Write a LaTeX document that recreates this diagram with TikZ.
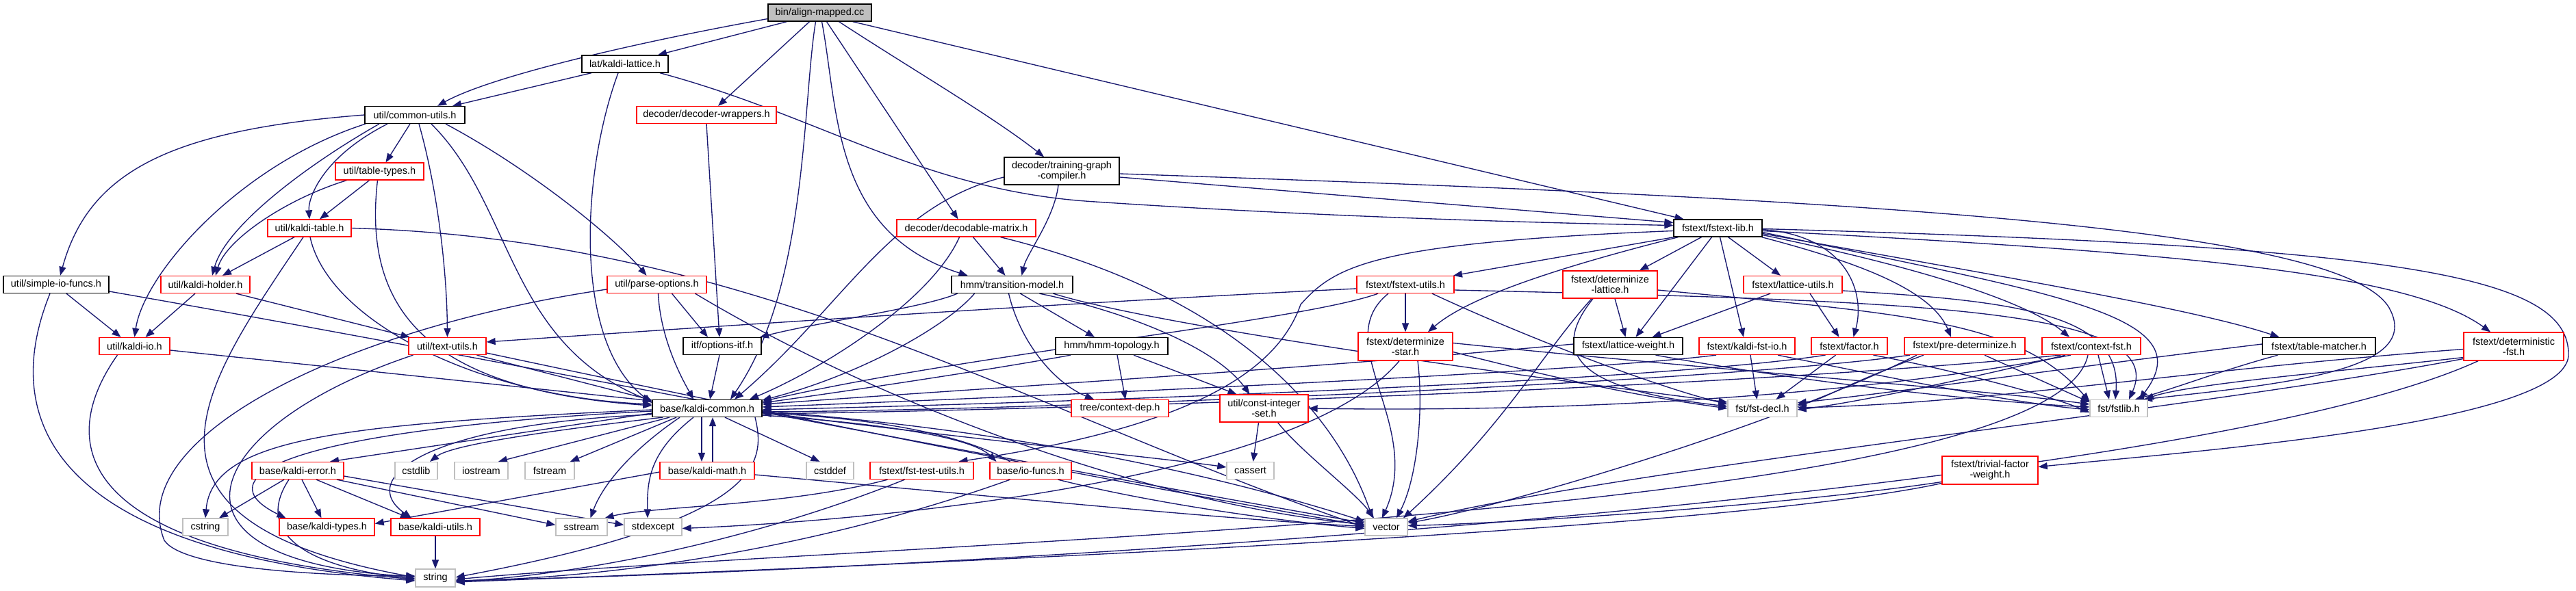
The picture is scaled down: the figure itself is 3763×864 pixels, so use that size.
\documentclass[tikz,border=0pt]{standalone}
\usepackage{fontspec}
\setmainfont{Liberation Sans}
\usetikzlibrary{arrows.meta}
\definecolor{edgec}{HTML}{191970}
\definecolor{grayb}{HTML}{BFBFBF}
\pgfdeclarelayer{bg}
\pgfsetlayers{bg,main}
\begin{document}
\begin{tikzpicture}[x=1pt,y=-1pt,
  box/.style={rectangle,inner sep=0pt,fill=white,line width=1.3pt,align=center,
    font=\fontsize{14.5}{15}\selectfont,minimum height=25pt},
  nb/.style={box,draw=black},
  nr/.style={box,draw=red},
  ng/.style={box,draw=grayb},
  nroot/.style={box,draw=black,fill=grayb},
  edg/.style={draw=edgec,line width=1.35pt,-{Triangle[length=13pt,width=10pt]}}]
\path[use as bounding box] (0,0) rectangle (3763,864);
% nodes
\node[nroot,minimum width=151pt] (A) at (1197.5,18.5) {bin/align-mapped.cc};
\node[nb,minimum width=126pt] (LAT) at (913,93.5) {lat/kaldi-lattice.h};
\node[nb,minimum width=146pt] (CU) at (606,168) {util/common-utils.h};
\node[nr,minimum width=204pt] (DW) at (1032,168) {decoder/decoder-wrappers.h};
\node[nb,minimum width=168pt,minimum height=40pt] (TGC) at (1551,250) {decoder/training-graph\\-compiler.h};
\node[nr,minimum width=129pt] (TT) at (554.5,250.5) {util/table-types.h};
\node[nr,minimum width=203pt] (DM) at (1411.5,333.5) {decoder/decodable-matrix.h};
\node[nr,minimum width=122pt] (KT) at (452,333.5) {util/kaldi-table.h};
\node[nb,minimum width=129pt] (FL) at (2509.5,333.5) {fstext/fstext-lib.h};
\node[nb,minimum width=154pt] (SIO) at (82,416) {util/simple-io-funcs.h};
\node[nr,minimum width=130pt] (KH) at (300,416) {util/kaldi-holder.h};
\node[nr,minimum width=145pt] (PO) at (959.5,416) {util/parse-options.h};
\node[nb,minimum width=177pt] (TM) at (1478.5,416) {hmm/transition-model.h};
\node[nr,minimum width=142pt] (FU) at (2053,416) {fstext/fstext-utils.h};
\node[nr,minimum width=138pt,minimum height=40pt] (DL) at (2352,416) {fstext/determinize\\-lattice.h};
\node[nr,minimum width=144pt] (LU) at (2619,416) {fstext/lattice-utils.h};
\node[nr,minimum width=103pt] (KIO) at (196.5,506) {util/kaldi-io.h};
\node[nr,minimum width=113pt] (TU) at (653.5,506) {util/text-utils.h};
\node[nb,minimum width=114pt] (OI) at (1055,506) {itf/options-itf.h};
\node[nb,minimum width=164pt] (HT) at (1624,506) {hmm/hmm-topology.h};
\node[nr,minimum width=138pt,minimum height=41pt] (DS) at (2053,506.5) {fstext/determinize\\-star.h};
\node[nb,minimum width=159pt] (LW) at (2378.5,506) {fstext/lattice-weight.h};
\node[nr,minimum width=140pt] (KFI) at (2552,506) {fstext/kaldi-fst-io.h};
\node[nr,minimum width=111pt] (FAC) at (2701.5,506) {fstext/factor.h};
\node[nr,minimum width=176pt] (PD) at (2870,506) {fstext/pre-determinize.h};
\node[nr,minimum width=144pt] (CF) at (3055,506) {fstext/context-fst.h};
\node[nb,minimum width=165pt] (TMA) at (3387.5,506) {fstext/table-matcher.h};
\node[nr,minimum width=146pt,minimum height=41pt] (DF) at (3672,506.5) {fstext/deterministic\\-fst.h};
\node[nb,minimum width=160pt] (KC) at (1033,597) {base/kaldi-common.h};
\node[nr,minimum width=142pt] (CD) at (1636,597) {tree/context-dep.h};
\node[nr,minimum width=129pt,minimum height=40pt] (CIS) at (1846.5,597) {util/const-integer\\-set.h};
\node[ng,minimum width=101pt] (FD) at (2574.5,597) {fst/fst-decl.h};
\node[ng,minimum width=84pt] (FLIB) at (3095,597) {fst/fstlib.h};
\node[nr,minimum width=134pt] (KE) at (435,688) {base/kaldi-error.h};
\node[ng,minimum width=62pt] (CSL) at (608,688) {cstdlib};
\node[ng,minimum width=78pt] (IOS) at (703,688) {iostream};
\node[ng,minimum width=72pt] (FS) at (803,688) {fstream};
\node[nr,minimum width=138pt] (KM) at (1033,688) {base/kaldi-math.h};
\node[ng,minimum width=69pt] (CDF) at (1212.5,688) {cstddef};
\node[nr,minimum width=151pt] (FTU) at (1346.5,688) {fstext/fst-test-utils.h};
\node[nr,minimum width=119pt] (IOF) at (1505.5,688) {base/io-funcs.h};
\node[ng,minimum width=69pt] (CAS) at (1826.5,688) {cassert};
\node[nr,minimum width=140pt,minimum height=41pt] (TFW) at (2907,687.5) {fstext/trivial-factor\\-weight.h};
\node[ng,minimum width=66pt] (CSTR) at (300,770.5) {cstring};
\node[nr,minimum width=139pt] (KTY) at (477.5,770.5) {base/kaldi-types.h};
\node[nr,minimum width=130pt] (KU) at (636,770.5) {base/kaldi-utils.h};
\node[ng,minimum width=75pt] (SS) at (849.5,770.5) {sstream};
\node[ng,minimum width=84pt] (SE) at (954,770.5) {stdexcept};
\node[ng,minimum width=62pt] (VEC) at (2025,770.5) {vector};
\node[ng,minimum width=58pt,minimum height=26pt] (STR) at (636,845) {string};
\begin{pgfonlayer}{bg}
\fill[white] (0,0) rectangle (3763,864);
% edges: align-mapped
\draw[edg] ([yshift=-9pt]A.west) .. controls (940,60) and (720,110) .. ([xshift=33pt]CU.north);
\draw[edg] ([xshift=-48pt]A.south) -- ([xshift=48pt]LAT.north);
\draw[edg] ([xshift=-15pt]A.south) -- ([xshift=17pt]DW.north);
\draw[edg] ([xshift=-6pt]A.south) .. controls (1172,150) and (1180,420) .. ([xshift=34pt]KC.north);
\draw[edg] ([xshift=3pt]A.south) .. controls (1225,160) and (1215,340) .. ([xshift=-65pt]TM.north);
\draw[edg] ([xshift=10pt]A.south) -- ([xshift=-12pt]DM.north);
\draw[edg] ([xshift=28pt]A.south) .. controls (1330,100) and (1450,170) .. ([xshift=-26pt]TGC.north);
\draw[edg] ([xshift=48pt]A.south) -- ([xshift=-50pt]FL.north);
% lattice
\draw[edg] ([xshift=-49pt]LAT.south) -- ([xshift=55pt]CU.north);
\draw[edg] ([xshift=-10pt]LAT.south) .. controls (850,250) and (835,500) .. ([yshift=8pt]KC.west);
\draw[edg] ([xshift=51pt]LAT.south) .. controls (1200,170) and (1350,280) .. (1600,295) .. controls (1900,315) and (2200,325) .. ([yshift=4pt]FL.west);
\draw[edg] (DW.south) -- ([xshift=-4pt]OI.north);
% training graph compiler
\draw[edg] ([yshift=-9pt]TGC.west) .. controls (1300,300) and (1230,450) .. ([xshift=40pt]KC.north);
\draw[edg] ([xshift=-5pt]TGC.south) .. controls (1540,320) and (1500,370) .. ([xshift=14pt]TM.north);
\draw[edg] ([yshift=-9pt]TGC.east) -- ([yshift=8pt]FL.west);
\draw[edg] ([yshift=-4pt]TGC.east) .. controls (2700,290) and (3420,330) .. (3490,450) .. controls (3540,540) and (3350,560) .. ([xshift=36pt]FLIB.north);
% fstext-lib
\draw[edg] ([yshift=-4pt]FL.west) .. controls (2000,355) and (1950,390) .. (1900,445) .. controls (1860,560) and (1700,630) .. ([xshift=54pt]FTU.north);
\draw[edg] ([xshift=-64pt]FL.south) -- ([xshift=70pt]FU.north);
\draw[edg] ([xshift=-58pt]FL.south) .. controls (2300,385) and (2150,430) .. ([xshift=33pt]DS.north);
\draw[edg] ([xshift=-24pt]FL.south) -- ([xshift=43pt]DL.north);
\draw[edg] ([xshift=-9pt]FL.south) -- ([xshift=11pt]LW.north);
\draw[edg] ([xshift=3pt]FL.south) -- ([xshift=-5pt]KFI.north);
\draw[edg] ([xshift=15pt]FL.south) -- ([xshift=-18pt]LU.north);
\draw[edg] ([yshift=-2pt]FL.east) .. controls (2700,345) and (2725,430) .. ([xshift=6pt]FAC.north);
\draw[edg] ([xshift=64pt]FL.south) .. controls (2700,380) and (2820,420) .. ([xshift=-20pt]PD.north);
\draw[edg] ([yshift=-10pt]FL.east) .. controls (2800,390) and (2960,440) .. ([xshift=-32pt]CF.north);
\draw[edg] ([yshift=-8pt]FL.east) .. controls (2900,400) and (3200,450) .. ([xshift=-58pt]TMA.north);
\draw[edg] ([yshift=-4pt]FL.east) .. controls (3200,370) and (3520,400) .. ([xshift=-34pt]DF.north);
\draw[edg] ([yshift=-1pt]FL.east) .. controls (3500,360) and (3755,400) .. (3752,520) .. controls (3745,620) and (3200,660) .. ([yshift=5pt]TFW.east);
\draw[edg] ([yshift=-6pt]FL.east) .. controls (3000,430) and (3220,460) .. ([xshift=30pt]FLIB.north);
% fstext-utils
\draw[edg] ([yshift=-6pt]FU.west) .. controls (1600,440) and (1000,480) .. ([yshift=6pt]TU.east);
\draw[edg] ([xshift=-40pt]FU.south) .. controls (1900,470) and (1400,520) .. ([yshift=10pt]KC.east);
\draw[edg] (FU.south) -- (DS.north);
\draw[edg] ([xshift=39pt]FU.south) .. controls (2200,480) and (2400,560) .. ([yshift=6pt]FD.west);
\draw[edg] ([yshift=-8pt]FU.east) .. controls (2800,440) and (3170,450) .. ([xshift=15pt]FLIB.north);
\draw[edg] ([xshift=-25pt]FU.south) .. controls (1940,500) and (2080,620) .. ([xshift=-6pt]VEC.north);
% determinize-lattice
\draw[edg] ([xshift=7pt]DL.south) -- ([xshift=-4pt]LW.north);
\draw[edg] ([xshift=-27pt]DL.south) .. controls (2250,520) and (2200,620) .. ([xshift=25pt]VEC.north);
\draw[edg] ([xshift=-25pt]DL.south) .. controls (2260,520) and (2310,570) .. ([yshift=3pt]FD.west);
\draw[edg] ([yshift=-8pt]DL.east) .. controls (2800,460) and (2950,470) .. ([yshift=10pt]FLIB.west);
% determinize-star
\draw[edg] ([yshift=-8pt]DS.east) .. controls (2300,560) and (2400,580) .. ([yshift=0pt]FD.west);
\draw[edg] ([yshift=5pt]DS.east) .. controls (2500,540) and (2900,570) .. ([yshift=6pt]FLIB.west);
\draw[edg] ([xshift=18pt]DS.south) .. controls (2080,600) and (2070,700) .. ([xshift=15pt]VEC.north);
\draw[edg] ([xshift=-9pt]DS.south) .. controls (1900,700) and (1300,760) .. ([yshift=-2pt]SE.east);
% lattice-weight, kaldi-fst-io, factor
\draw[edg] ([yshift=3pt]LW.west) .. controls (1900,540) and (1400,570) .. ([yshift=6pt]KC.east);
\draw[edg] ([xshift=40pt]LW.south) .. controls (2700,570) and (2950,590) .. ([yshift=2pt]FLIB.west);
\draw[edg] ([xshift=-45pt]KFI.south) .. controls (2300,545) and (1500,580) .. ([yshift=2pt]KC.east);
\draw[edg] ([xshift=5pt]KFI.south) -- ([xshift=-8pt]FD.north);
\draw[edg] ([xshift=45pt]KFI.south) .. controls (2800,560) and (2950,590) .. ([yshift=-2pt]FLIB.west);
\draw[edg] ([xshift=-35pt]FAC.south) .. controls (2400,560) and (1500,590) .. ([yshift=-2pt]KC.east);
\draw[edg] ([xshift=-20pt]FAC.south) -- ([xshift=20pt]FD.north);
\draw[edg] ([xshift=35pt]FAC.south) .. controls (2850,540) and (3000,580) .. ([yshift=-6pt]FLIB.west);
% lattice-utils
\draw[edg] ([xshift=-33pt]LU.south) -- ([xshift=35pt]LW.north);
\draw[edg] ([xshift=25pt]LU.south) -- ([xshift=-15pt]FAC.north);
\draw[edg] ([yshift=-9pt]LU.east) .. controls (2950,440) and (3100,460) .. ([xshift=-5pt]FLIB.north);
% pre-determinize, context-fst, table-matcher, deterministic-fst, trivial
\draw[edg] ([xshift=-80pt]PD.south) .. controls (2500,560) and (1500,600) .. ([yshift=-5pt]KC.east);
\draw[edg] ([xshift=-60pt]PD.south) .. controls (2700,560) and (2660,585) .. ([yshift=5pt]FD.east);
\draw[edg] ([xshift=29pt]PD.south) -- ([yshift=9pt]FLIB.west);
\draw[edg] ([xshift=-70pt]PD.south) .. controls (2600,620) and (2200,740) .. ([yshift=6pt]VEC.east);
\draw[edg] ([xshift=-45pt]CF.south) .. controls (2500,570) and (1500,600) .. ([yshift=-8pt]KC.east);
\draw[edg] ([xshift=-38pt]CF.south) .. controls (2850,560) and (2700,590) .. ([yshift=-2pt]FD.east);
\draw[edg] ([xshift=-30pt]CF.south) .. controls (2600,600) and (2100,600) .. (CIS.east);
\draw[edg] ([xshift=-5pt]CF.south) .. controls (3000,760) and (1300,790) .. ([yshift=-2pt]STR.east);
\draw[edg] ([xshift=10pt]CF.south) -- ([xshift=-14pt]FLIB.north);
\draw[edg] ([yshift=3pt]TMA.west) .. controls (3000,540) and (2800,570) .. ([yshift=8pt]FD.east);
\draw[edg] ([xshift=-60pt]TMA.south) .. controls (3250,540) and (3170,570) .. ([xshift=24pt]FLIB.north);
\draw[edg] ([yshift=-4pt]DF.west) .. controls (3200,540) and (2900,590) .. ([yshift=1pt]FD.east);
\draw[edg] ([yshift=-16pt]DF.west) .. controls (3450,540) and (3200,560) .. ([xshift=38pt]FLIB.north);
\draw[edg] ([yshift=-18pt]DF.west) .. controls (3200,600) and (2400,680) .. ([yshift=8pt]VEC.east);
\draw[edg] ([xshift=-52pt]DF.south) .. controls (3200,720) and (1500,830) .. ([yshift=-4pt]STR.east);
\draw[edg] ([yshift=-17pt]TFW.west) .. controls (2600,740) and (2200,765) .. ([yshift=2pt]VEC.east);
\draw[edg] ([yshift=-19pt]TFW.west) .. controls (2500,780) and (1200,830) .. ([yshift=-6pt]STR.east);
% transition model
\draw[edg] ([xshift=-80pt]TM.south) .. controls (1350,450) and (1200,470) .. ([xshift=55pt]OI.north);
\draw[edg] ([xshift=-55pt]TM.south) .. controls (1380,480) and (1250,550) .. ([yshift=12pt]KC.east);
\draw[edg] ([xshift=-5pt]TM.south) .. controls (1490,500) and (1540,560) .. ([xshift=-38pt]CD.north);
\draw[edg] ([xshift=12pt]TM.south) -- ([xshift=-25pt]HT.north);
\draw[edg] ([xshift=40pt]TM.south) .. controls (1620,450) and (1770,500) .. ([xshift=-21pt]CIS.north);
\draw[edg] ([xshift=60pt]TM.south) .. controls (1700,480) and (2300,560) .. ([yshift=9pt]FD.west);
\draw[edg] ([xshift=-60pt]HT.south) .. controls (1450,540) and (1250,570) .. ([yshift=8pt]KC.east);
\draw[edg] ([xshift=8pt]HT.south) -- ([xshift=8pt]CD.north);
\draw[edg] ([xshift=32pt]HT.south) -- ([xshift=-40pt]CIS.north);
% decodable matrix
\draw[edg] ([xshift=-10pt]DM.south) .. controls (1360,440) and (1200,540) .. ([xshift=62pt]KC.north);
\draw[edg] ([xshift=10pt]DM.south) -- ([xshift=-10pt]TM.north);
\draw[edg] ([xshift=50pt]DM.south) .. controls (1800,430) and (1950,600) .. ([xshift=-20pt]VEC.north);
\draw[edg] ([xshift=-4pt]OI.south) -- ([xshift=4pt]KC.north);
% parse-options
\draw[edg] ([xshift=22pt]PO.south) -- ([xshift=-21pt]OI.north);
\draw[edg] ([xshift=2pt]PO.south) .. controls (965,500) and (1000,560) .. ([xshift=-20pt]KC.north);
\draw[edg] ([yshift=-7pt]PO.west) .. controls (500,480) and (180,640) .. (240,790) .. controls (270,835) and (500,842) .. ([yshift=3pt]STR.west);
\draw[edg] ([xshift=56pt]PO.south) .. controls (1300,600) and (1700,740) .. ([yshift=4pt]VEC.west);
% kaldi-table, table-types
\draw[edg] ([xshift=-22pt]KT.south) -- ([xshift=25pt]KH.north);
\draw[edg] ([xshift=-9pt]KT.south) .. controls (300,560) and (150,760) .. ([yshift=1pt]STR.west);
\draw[edg] ([xshift=1pt]KT.south) .. controls (480,470) and (700,580) .. ([yshift=6pt]KC.west);
\draw[edg] (KT.east) .. controls (1100,350) and (1500,600) .. (VEC.west);
\draw[edg] ([xshift=-48pt]TT.south) .. controls (420,290) and (330,350) .. ([xshift=15pt]KH.north);
\draw[edg] ([xshift=-15pt]TT.south) -- ([xshift=15pt]KT.north);
\draw[edg] ([xshift=-3pt]TT.south) .. controls (530,450) and (620,570) .. ([yshift=4pt]KC.west);
% common-utils
\draw[edg] (CU.west) .. controls (250,190) and (130,250) .. ([xshift=6pt]SIO.north);
\draw[edg] ([xshift=-72pt]CU.south) .. controls (350,240) and (210,400) .. (KIO.north);
\draw[edg] ([xshift=-52pt]CU.south) .. controls (450,240) and (330,330) .. ([xshift=10pt]KH.north);
\draw[edg] ([xshift=-40pt]CU.south) .. controls (470,230) and (450,290) .. (KT.north);
\draw[edg] ([xshift=-7pt]CU.south) -- ([xshift=9pt]TT.north);
\draw[edg] ([xshift=6pt]CU.south) .. controls (640,280) and (653,400) .. (TU.north);
\draw[edg] ([xshift=24pt]CU.south) .. controls (750,300) and (740,500) .. ([yshift=10pt]KC.west);
\draw[edg] ([xshift=45pt]CU.south) .. controls (780,250) and (900,350) .. ([xshift=-15pt]PO.north);
% holder, simple-io, kaldi-io, text-utils
\draw[edg] ([xshift=-15pt]KH.south) -- ([xshift=16pt]KIO.north);
\draw[edg] ([xshift=45pt]KH.south) -- ([xshift=-55pt]TU.north);
\draw[edg] ([xshift=-9pt]SIO.south) .. controls (20,560) and (0,800) .. ([yshift=-4pt]STR.west);
\draw[edg] ([xshift=15pt]SIO.south) -- ([xshift=-20pt]KIO.north);
\draw[edg] ([yshift=-10pt]SIO.east) .. controls (700,520) and (1500,680) .. ([yshift=6pt]VEC.west);
\draw[edg] ([xshift=-25pt]KIO.south) .. controls (100,620) and (60,800) .. ([yshift=-2pt]STR.west);
\draw[edg] ([yshift=-6pt]KIO.east) -- ([yshift=11pt]KC.west);
\draw[edg] ([xshift=-50pt]TU.south) .. controls (300,620) and (200,820) .. ([yshift=2pt]STR.west);
\draw[edg] ([xshift=43pt]TU.south) -- ([yshift=12pt]KC.west);
\draw[edg] ([yshift=-10pt]TU.east) .. controls (1200,620) and (1600,700) .. ([yshift=2pt]VEC.west);
% kaldi-common
\draw[edg] ([yshift=-7pt]KC.west) -- ([xshift=47pt]KE.north);
\draw[edg] ([xshift=-65pt]KC.south) .. controls (800,630) and (660,650) .. ([xshift=20pt]CSL.north);
\draw[edg] ([xshift=-55pt]KC.south) -- ([xshift=25pt]IOS.north);
\draw[edg] ([xshift=-45pt]KC.south) -- ([xshift=30pt]FS.north);
\draw[edg] ([yshift=-2pt]KC.west) .. controls (500,620) and (310,640) .. (CSTR.north);
\draw[edg] ([yshift=-4pt]KC.west) .. controls (400,630) and (300,700) .. ([xshift=-60pt]KTY.north);
\draw[edg] ([yshift=-9pt]KC.west) .. controls (620,620) and (520,700) .. ([xshift=-35pt]KU.north);
\draw[edg] ([xshift=-40pt]KC.south) .. controls (920,660) and (880,710) .. ([xshift=13pt]SS.north);
\draw[edg] ([xshift=-20pt]KC.south) .. controls (950,660) and (945,700) .. ([xshift=-8pt]SE.north);
\draw[edg] ([xshift=70pt]KC.south) .. controls (1120,680) and (1110,760) .. ([yshift=1pt]STR.east);
\draw[edg] ([xshift=-8pt]KC.south) -- ([xshift=-8pt]KM.north);
\draw[edg] ([xshift=8pt]KM.north) -- ([xshift=8pt]KC.south);
\draw[edg] ([xshift=26pt]KC.south) -- ([xshift=-15pt]CDF.north);
\draw[edg] ([yshift=-10pt]KC.east) .. controls (1300,620) and (1420,640) .. ([xshift=-50pt]IOF.north);
\draw[edg] ([xshift=-30pt]IOF.north) .. controls (1400,630) and (1250,610) .. ([yshift=-7pt]KC.east);
\draw[edg] ([yshift=-6pt]KC.east) .. controls (1400,640) and (1700,670) .. ([yshift=5pt]CAS.west);
\draw[edg] ([yshift=-4pt]KC.east) .. controls (1500,630) and (1800,700) .. ([yshift=8pt]VEC.west);
% kaldi-error etc.
\draw[edg] ([xshift=-20pt]KE.south) -- ([xshift=20pt]CSTR.north);
\draw[edg] ([xshift=6pt]KE.south) -- ([xshift=-8pt]KTY.north);
\draw[edg] ([xshift=27pt]KE.south) -- ([xshift=-38pt]KU.north);
\draw[edg] ([xshift=57pt]KE.south) -- ([yshift=3pt]SS.west);
\draw[edg] ([yshift=-8pt]KE.east) -- ([yshift=3pt]SE.west);
\draw[edg] ([xshift=-13pt]KE.south) .. controls (370,780) and (450,830) .. ([yshift=-1pt]STR.west);
\draw[edg] (KU.south) -- (STR.north);
\draw[edg] ([yshift=-2pt]KM.west) -- ([yshift=5pt]KTY.east);
\draw[edg] ([yshift=-6pt]KM.east) .. controls (1500,730) and (1800,760) .. ([yshift=1pt]VEC.west);
\draw[edg] ([xshift=-30pt]IOF.south) .. controls (1200,800) and (900,845) .. ([yshift=-4pt]STR.east);
\draw[edg] ([xshift=40pt]IOF.south) .. controls (1700,740) and (1900,765) .. ([yshift=-2pt]VEC.west);
\draw[edg] ([xshift=-50pt]FTU.south) .. controls (1150,740) and (950,740) .. ([xshift=34pt]SS.north);
\draw[edg] ([xshift=-25pt]FTU.south) .. controls (1100,790) and (850,840) .. ([yshift=-5pt]STR.east);
\draw[edg] ([xshift=-8pt]CIS.south) -- ([xshift=4pt]CAS.north);
\draw[edg] ([xshift=20pt]CIS.south) .. controls (1900,660) and (1980,720) .. ([xshift=-18pt]VEC.north);
\end{pgfonlayer}
\end{tikzpicture}
\end{document}
